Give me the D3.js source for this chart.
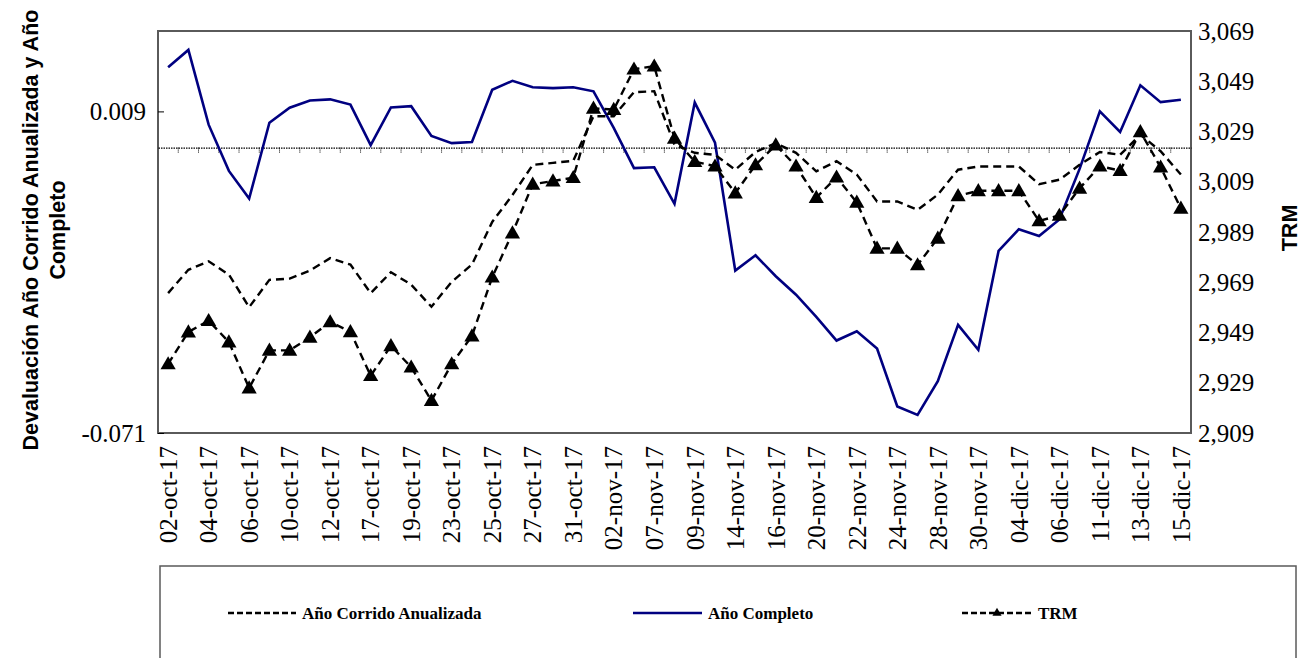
<!DOCTYPE html>
<html>
<head>
<meta charset="utf-8">
<script src="https://cdn.jsdelivr.net/npm/d3@7"></script>
<style>
  html, body { margin: 0; padding: 0; background: #fff; }
  svg { display: block; }
  .serif { font-family: "Liberation Serif", "Times New Roman", Times, serif; }
  .sans { font-family: "Liberation Sans", Arial, Helvetica, sans-serif; }
</style>
</head>
<body>
<svg id="chart" width="1304" height="658"></svg>
<script>
// Trading days, October - December 2017
const dates = [
  "02-oct-17","03-oct-17","04-oct-17","05-oct-17","06-oct-17","09-oct-17","10-oct-17","11-oct-17","12-oct-17","13-oct-17",
  "17-oct-17","18-oct-17","19-oct-17","20-oct-17","23-oct-17","24-oct-17","25-oct-17","26-oct-17","27-oct-17","30-oct-17",
  "31-oct-17","01-nov-17","02-nov-17","03-nov-17","07-nov-17","08-nov-17","09-nov-17","10-nov-17","14-nov-17","15-nov-17",
  "16-nov-17","17-nov-17","20-nov-17","21-nov-17","22-nov-17","23-nov-17","24-nov-17","27-nov-17","28-nov-17","29-nov-17",
  "30-nov-17","01-dic-17","04-dic-17","05-dic-17","06-dic-17","07-dic-17","11-dic-17","12-dic-17","13-dic-17","14-dic-17",
  "15-dic-17"
];

// Devaluación año corrido anualizada (left axis)
const anioCorrido = [
  -0.0362,-0.0304,-0.0283,-0.0316,-0.0397,-0.0329,-0.0326,-0.0306,-0.0275,-0.0291,
  -0.0362,-0.0310,-0.0341,-0.0396,-0.0334,-0.0291,-0.0185,-0.0118,-0.0043,-0.0038,
  -0.0033, 0.0078, 0.0078, 0.0138, 0.0140, 0.0007,-0.0013,-0.0018,-0.0055,-0.0011,
   0.0011,-0.0013,-0.0059,-0.0034,-0.0067,-0.0134,-0.0134,-0.0155,-0.0117,-0.0055,
  -0.0047,-0.0047,-0.0047,-0.0091,-0.0080,-0.0043,-0.0011,-0.0018, 0.0032,-0.0009,
  -0.0067
];

// Devaluación año completo (left axis)
const anioCompleto = [
   0.0200, 0.0243, 0.0057,-0.0058,-0.0127, 0.0062, 0.0099, 0.0117, 0.0120, 0.0107,
   0.0006, 0.0100, 0.0103, 0.0029, 0.0011, 0.0014, 0.0144, 0.0166, 0.0150, 0.0148,
   0.0150, 0.0140, 0.0049,-0.0051,-0.0049,-0.0140, 0.0112, 0.0012,-0.0306,-0.0268,
  -0.0320,-0.0366,-0.0421,-0.0480,-0.0457,-0.0500,-0.0644,-0.0665,-0.0581,-0.0441,
  -0.0503,-0.0257,-0.0203,-0.0220,-0.0179,-0.0053, 0.0090, 0.0039, 0.0155, 0.0113,
   0.0119
];

// Tasa representativa del mercado (right axis)
const trm = [
  2936.5,2949.2,2953.7,2945.2,2926.9,2941.9,2941.9,2947.1,2953.2,2949.3,
  2931.8,2943.7,2935.2,2921.9,2936.5,2947.6,2971.0,2988.6,3008.0,3009.3,
  3010.6,3038.2,3037.7,3053.8,3055.0,3026.3,3017.0,3015.2,3004.5,3015.7,
  3023.6,3015.2,3002.7,3010.8,3000.8,2982.5,2982.5,2975.9,2986.5,3003.4,
  3005.4,3005.4,3005.4,2993.4,2995.6,3006.4,3015.2,3013.4,3028.9,3014.8,
  2998.4
];

const leftTicks = [-0.071, 0.009];
const rightTicks = [2909, 2929, 2949, 2969, 2989, 3009, 3029, 3049, 3069];
const seriesNames = ["Año Corrido Anualizada", "Año Completo", "TRM"];

const svg = d3.select("#chart");
const plot = { left: 158, right: 1191, top: 31, bottom: 433 };

const x = d3.scaleBand().domain(dates).range([plot.left, plot.right]);
const bw = x.bandwidth();
const cx = d => x(d) + bw / 2;
const yL = d3.scaleLinear().domain([-0.071, 0.029]).range([plot.bottom, plot.top]);
const yR = d3.scaleLinear().domain([2909, 3069]).range([plot.bottom, plot.top]);

// plot frame
svg.append("rect")
  .attr("x", plot.left).attr("y", plot.top)
  .attr("width", plot.right - plot.left).attr("height", plot.bottom - plot.top)
  .attr("fill", "none").attr("stroke", "#5a5a5a").attr("stroke-width", 2);

function styleTickText(sel) {
  sel.attr("font-family", null).attr("font-size", null)
    .attr("class", "serif").style("font-size", "25px").attr("fill", "#000");
}

// left axis
const gL = svg.append("g").attr("transform", `translate(${plot.left},0)`)
  .call(d3.axisLeft(yL).tickValues(leftTicks).tickFormat(d => d.toFixed(3))
    .tickSizeInner(-6).tickSizeOuter(0).tickPadding(12));
gL.attr("font-family", null).attr("font-size", null);
gL.select(".domain").remove();
gL.selectAll("line").attr("stroke", "#000");
styleTickText(gL.selectAll("text"));

// right axis
const gR = svg.append("g").attr("transform", `translate(${plot.right},0)`)
  .call(d3.axisRight(yR).tickValues(rightTicks).tickFormat(d3.format(","))
    .tickSize(0).tickPadding(7));
gR.attr("font-family", null).attr("font-size", null);
gR.select(".domain").remove();
styleTickText(gR.selectAll("text"));

// zero line with category tick marks
const gZ = svg.append("g").attr("transform", `translate(0,${yL(0)})`)
  .call(d3.axisBottom(x).tickFormat("").tickSizeInner(5).tickSizeOuter(0));
gZ.select(".domain").attr("stroke", "#000").attr("stroke-width", 1.2).attr("stroke-dasharray", "1.5,1");
gZ.selectAll(".tick line").attr("stroke", "#000").attr("stroke-dasharray", "1,1")
  .attr("transform", `translate(${-bw / 2},0)`);
gZ.selectAll(".tick").filter((d, i) => i === 0).remove();

// date labels under the plot
const gX = svg.append("g").attr("transform", `translate(0,${plot.bottom})`)
  .call(d3.axisBottom(x).tickValues(dates.filter((d, i) => i % 2 === 0)).tickSize(0));
gX.attr("font-family", null).attr("font-size", null);
gX.select(".domain").remove();
styleTickText(gX.selectAll("text"));
gX.selectAll("text")
  .attr("text-anchor", "end")
  .attr("transform", "rotate(-90)")
  .attr("x", -13).attr("y", 0).attr("dy", "0.35em");

// lines
const lineL = d3.line().x((d, i) => cx(dates[i])).y(d => yL(d));
const lineR = d3.line().x((d, i) => cx(dates[i])).y(d => yR(d));

svg.append("path").datum(anioCompleto)
  .attr("d", lineL).attr("fill", "none")
  .attr("stroke", "#000080").attr("stroke-width", 2.6).attr("stroke-linejoin", "miter");

svg.append("path").datum(anioCorrido)
  .attr("d", lineL).attr("fill", "none")
  .attr("stroke", "#000").attr("stroke-width", 2.4).attr("stroke-dasharray", "8,5");

svg.append("path").datum(trm)
  .attr("d", lineR).attr("fill", "none")
  .attr("stroke", "#000").attr("stroke-width", 2.4).attr("stroke-dasharray", "8,5");

const tri = d3.symbol().type(d3.symbolTriangle).size(100);
svg.append("g").selectAll("path").data(trm).join("path")
  .attr("d", tri)
  .attr("transform", (d, i) => `translate(${cx(dates[i])},${yR(d) + 1})`)
  .attr("fill", "#000");

// axis titles
const tl = svg.append("text")
  .attr("class", "sans")
  .attr("transform", "translate(38,230) rotate(-90)")
  .attr("text-anchor", "middle")
  .style("font-weight", "bold").style("font-size", "21.5px").attr("fill", "#000");
tl.append("tspan").attr("x", 0).attr("y", 0).text("Devaluación Año Corrido Anualizada y Año");
tl.append("tspan").attr("x", 0).attr("y", 27).text("Completo");

svg.append("text")
  .attr("class", "sans")
  .attr("transform", "translate(1297,228) rotate(-90)")
  .attr("text-anchor", "middle")
  .style("font-weight", "bold").style("font-size", "21.5px").attr("fill", "#000")
  .text("TRM");

// legend
const lg = svg.append("g");
lg.append("rect").attr("x", 160).attr("y", 566).attr("width", 1136).attr("height", 130)
  .attr("fill", "#fff").attr("stroke", "#5a5a5a").attr("stroke-width", 1.5);

const legendItems = [
  { name: seriesNames[0], x0: 228, x1: 296, color: "#000", dash: "6,3", marker: false },
  { name: seriesNames[1], x0: 633, x1: 702, color: "#000080", dash: null, marker: false },
  { name: seriesNames[2], x0: 962, x1: 1032, color: "#000", dash: "6,3", marker: true }
];
const ly = 613;
legendItems.forEach(it => {
  const ln = lg.append("line").attr("x1", it.x0).attr("x2", it.x1).attr("y1", ly).attr("y2", ly)
    .attr("stroke", it.color).attr("stroke-width", 2.4);
  if (it.dash) ln.attr("stroke-dasharray", it.dash);
  if (it.marker) {
    lg.append("path").attr("d", d3.symbol().type(d3.symbolTriangle).size(36))
      .attr("transform", `translate(${(it.x0 + it.x1) / 2},${ly})`).attr("fill", "#000");
  }
  lg.append("text").attr("class", "serif")
    .attr("x", it.x1 + 6).attr("y", ly).attr("dy", "0.35em")
    .style("font-weight", "bold").style("font-size", "17px")
    .attr("fill", "#000").text(it.name);
});
</script>
</body>
</html>
